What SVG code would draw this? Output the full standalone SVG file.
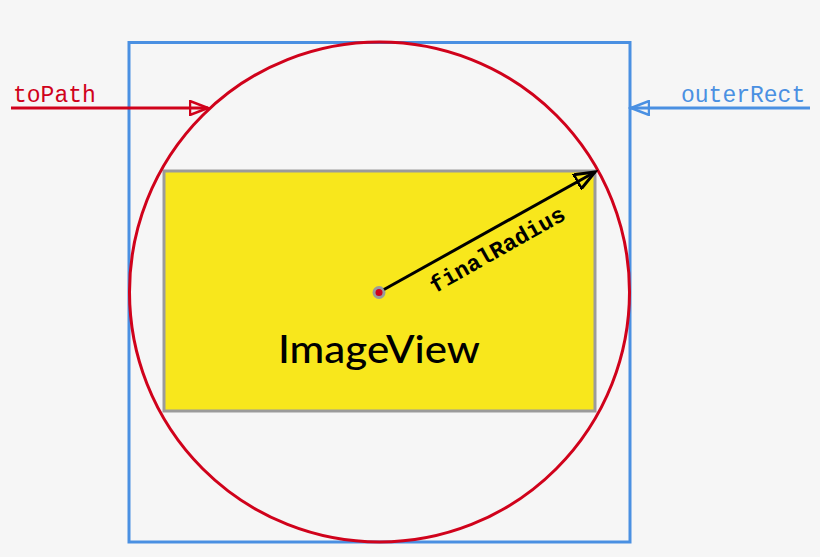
<svg xmlns="http://www.w3.org/2000/svg" width="820" height="557" viewBox="0 0 820 557">
<style>
.mono{font-family:"Courier New","Nimbus Mono PS","Liberation Mono",monospace;font-size:23px}
.red{fill:#d0021b}
.blue{fill:#4a90e2}
</style>
<defs>
<marker id="ahRed" markerUnits="userSpaceOnUse" markerWidth="22" markerHeight="16" refX="18" refY="7" orient="auto" viewBox="-1 -1 22 16">
<path d="M0,0 L18,7 L0,14 Z" fill="none" stroke="#d0021b" stroke-width="2.5"/>
</marker>
<marker id="ahBlue" markerUnits="userSpaceOnUse" markerWidth="22" markerHeight="16" refX="18" refY="7" orient="auto" viewBox="-1 -1 22 16">
<path d="M0,0 L18,7 L0,14 Z" fill="none" stroke="#4a90e2" stroke-width="2.5"/>
</marker>
<marker id="ahBlack" markerUnits="userSpaceOnUse" markerWidth="24" markerHeight="18" refX="20" refY="8" orient="auto" viewBox="-1 -1 24 18">
<path d="M0,0 L20,8 L0,16 Z" fill="none" stroke="#000" stroke-width="3"/>
</marker>
</defs>
<rect width="820" height="557" fill="#f6f6f6"/>
<g id="outerRect">
<rect x="129" y="42.5" width="501" height="499.5" fill="none" stroke="#4a90e2" stroke-width="3"/>
</g>
<g id="imageView">
<rect x="164" y="171" width="431" height="240" fill="#f8e71c" stroke="#9b9b9b" stroke-width="3"/>
<text x="379" y="363" text-anchor="middle" font-family="Lato,'Noto Sans',sans-serif" font-size="38" font-weight="500" textLength="202" lengthAdjust="spacingAndGlyphs" fill="#000">ImageView</text>
</g>
<g id="toPath">
<circle cx="379.5" cy="292" r="250" fill="none" stroke="#d0021b" stroke-width="3"/>
</g>
<g id="center">
<circle cx="379" cy="292.5" r="6.5" fill="#9b9b9b"/>
<circle cx="379" cy="292.5" r="3.5" fill="#d0021b"/>
</g>
<g id="labels">
<text class="mono red" x="13" y="102">toPath</text>
<text class="mono blue" x="681" y="102">outerRect</text>
<text class="mono" x="501" y="256" text-anchor="middle" font-weight="bold" fill="#000" transform="rotate(-29.5 501 256)">finalRadius</text>
</g>
<g id="connectors" fill="none">
<line x1="11" y1="108" x2="208" y2="108" stroke="#d0021b" stroke-width="3" marker-end="url(#ahRed)"/>
<line x1="810" y1="108" x2="631" y2="108" stroke="#4a90e2" stroke-width="3" marker-end="url(#ahBlue)"/>
<line x1="384" y1="289.5" x2="595" y2="172" stroke="#000" stroke-width="3" marker-end="url(#ahBlack)"/>
</g>
</svg>
